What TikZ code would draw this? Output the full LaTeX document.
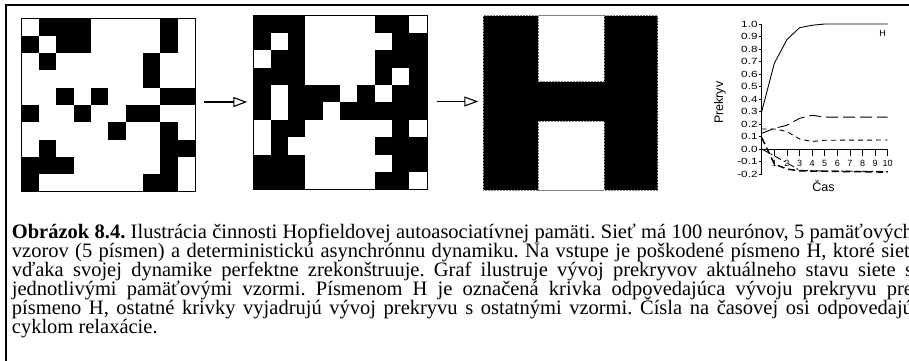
\documentclass[tikz,border=0pt]{standalone}
\usepackage{fontspec}
\setmainfont{Liberation Serif}
\newfontfamily\graphfont{Liberation Sans}
\usetikzlibrary{arrows.meta}
\frenchspacing

\tikzset{
  gridbox/.style={draw=black, line width=0.6pt, inner sep=0pt, outer sep=0pt, anchor=north west},
  hgridbox/.style={draw=gray, densely dotted, line width=0.5pt, inner sep=0pt, outer sep=0pt, anchor=north west},
  flowarrow/.style={line width=1.1pt, -{Triangle[open, length=14pt, width=10pt, line width=1.1pt]}},
  axisline/.style={line width=0.9pt},
  ticklab/.style={font=\graphfont\fontsize{9}{9}\selectfont, inner sep=0pt},
  axlab/.style={font=\graphfont\fontsize{12.5}{12.5}\selectfont, inner sep=0pt},
  curveH/.style={line width=0.9pt},
  curveA/.style={line width=0.9pt, dash pattern=on 12pt off 5pt},
  curveB/.style={line width=0.9pt, dash pattern=on 5pt off 4pt},
  curveC/.style={line width=0.9pt, dash pattern=on 7pt off 3pt on 2pt off 3pt},
  curveD/.style={line width=1.5pt, dash pattern=on 7pt off 4pt},
  capline/.style={anchor=base west, inner sep=0pt, font=\fontsize{20.5}{19}\selectfont},
}

\newcommand{\gridcells}[4]{%
  \foreach \r/\cs in {#4} {
    \foreach \c in \cs {
      \fill[black] ({#1+\c*#3}, {#2+\r*#3}) rectangle ++(#3,#3);
    }
  }
}

\begin{document}
\begin{tikzpicture}[x=1pt, y=-1pt]
\useasboundingbox (0,0) rectangle (909,360);
\clip (0,0) rectangle (909,360);

% outer frame (left and top edges visible)
\draw[line width=2pt] (6,400) |- (950,5);

% grid 1: damaged input
\gridcells{21.7}{18.3}{17.33}{0/{1,2,3,8},1/{0,2,3,8},2/{1,7},3/{7},4/{2,4,8,9},5/{0,3,6,7},6/{5,8},7/{1,8,9},8/{0,1,2,8},9/{0,7,8}}
\node[gridbox, minimum width=173.3pt, minimum height=173.3pt] (g1) at (21.7,18.3) {};

% grid 2: intermediate state
\gridcells{253.3}{15.7}{17.35}{0/{0,1,2,7,8},1/{0,2,8,9},2/{1,2,7,8,9},3/{0,1,2,7,9},4/{0,2,3,4,6,8,9},5/{0,2,3,5,6,7,8,9},6/{1,2,8},7/{1,7,8,9},8/{0,1,2,8,9},9/{0,1,2,7,8}}
\node[gridbox, minimum width=173.5pt, minimum height=173.5pt] (g2) at (253.3,15.7) {};

% grid 3: reconstructed H
\fill[black] (483.3,15.7) rectangle (657.7,190);
\draw[fill=white, draw=gray, densely dotted, line width=0.5pt] (538.3,15.7) rectangle (604,81.7);
\draw[fill=white, draw=gray, densely dotted, line width=0.5pt] (538.3,121) rectangle (604,190);
\node[hgridbox, minimum width=174.4pt, minimum height=174.3pt] (g3) at (483.3,15.7) {};

% arrows
\coordinate (a1s) at (204,102);
\coordinate (a2s) at (436.7,101.5);
\coordinate (a1e) at ([xshift=-6pt]g2.west);
\coordinate (a2e) at ([xshift=-5pt]g3.west);
\draw[flowarrow] (a1s) -- (a1s -| a1e);
\draw[flowarrow] (a2s) -- (a2s -| a2e);

% graph
\begin{scope}[shift={(761.7,149)}, x=12.6pt, y=125pt]
  \coordinate (o) at (0,0);
  \draw[axisline] (0,-0.2) -- (0,1.0);
  \draw[axisline] (0,0) -- (10,0);
  \foreach \v/\l in {1.0/1.0,0.9/0.9,0.8/0.8,0.7/0.7,0.6/0.6,0.5/0.5,0.4/0.4,0.3/0.3,0.2/0.2,0.1/0.1,0.0/0.0,-0.1/-0.1,-0.2/-0.2} {
    \draw[line width=0.7pt] (0,\v) -- ++(-3pt,0pt);
    \node[ticklab, anchor=east] (yl\l) at ([xshift=-4pt]0,\v) {\scalebox{1.3}[1]{\l}};
  }
  \foreach \t in {1,...,10} {
    \draw[line width=0.7pt] (\t,0) -- ++(0pt,-7pt);
    \node[ticklab] (xl\t) at ([yshift=-14pt]\t,0) {\t};
  }
  \node[axlab, rotate=90] (ylab) at ([xshift=-41.7pt]0,0.37) {Prekryv};
  \node[axlab] (xlab) at ([yshift=-37pt]4.9,0) {Čas};
  \node[ticklab] (hlab) at ([xshift=-5pt,yshift=-9pt]10,1.0) {H};

  \draw[curveH] (0,0.3) -- (1,0.685) -- (2,0.875) -- (3,0.97) -- (4,0.99) -- (5,1.0) -- (10,1.0);
  \draw[curveA] (0,0.125) -- (1,0.165) -- (2,0.19) -- (3,0.245) -- (4,0.27) -- (5,0.255) -- (10,0.255);
  \draw[curveB] (0,0.16) -- (1,0.16) -- (2,0.14) -- (3,0.08) -- (4,0.06) -- (5,0.07) -- (10,0.072);
  \draw[curveC] (0,0.0) -- (1,-0.055) -- (2,-0.11) -- (3,-0.17) -- (4,-0.175) -- (10,-0.18);
  \draw[curveD] (0,0.09) -- (0.3,0.03) -- (1,-0.12) -- (2,-0.16) -- (3,-0.175) -- (10,-0.185);
\end{scope}

% caption
\node[capline] (c1) at (11.7,238.3) {\makebox[901pt][s]{\textbf{Obrázok 8.4.} Ilustrácia činnosti Hopfieldovej autoasociatívnej pamäti. Sieť má 100 neurónov, 5 pamäťových}};
\node[capline] (c2) at (11.7,257.3) {\makebox[901pt][s]{vzorov (5 písmen) a deterministickú asynchrónnu dynamiku. Na vstupe je poškodené písmeno H, ktoré sieť}};
\node[capline] (c3) at (11.7,276.3) {\makebox[901pt][s]{vďaka svojej dynamike perfektne zrekonštruuje. Graf ilustruje vývoj prekryvov aktuálneho stavu siete s}};
\node[capline] (c4) at (11.7,295.3) {\makebox[901pt][s]{jednotlivými pamäťovými vzormi. Písmenom H je označená krivka odpovedajúca vývoju prekryvu pre}};
\node[capline] (c5) at (11.7,314.3) {\makebox[901pt][s]{písmeno H, ostatné krivky vyjadrujú vývoj prekryvu s ostatnými vzormi. Čísla na časovej osi odpovedajú}};
\node[capline] (c6) at (11.7,333.3) {cyklom relaxácie.};
\end{tikzpicture}
\end{document}
